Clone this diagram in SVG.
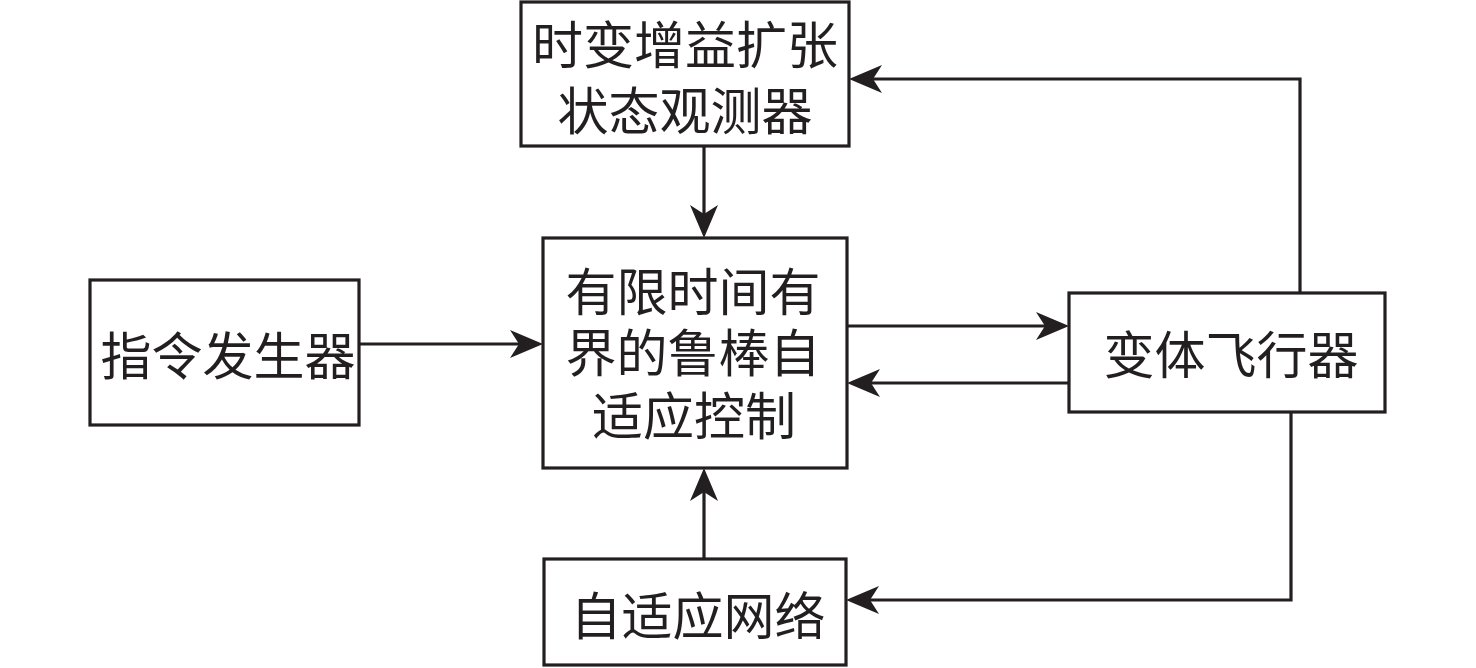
<svg xmlns="http://www.w3.org/2000/svg" width="1476" height="668" viewBox="0 0 1476 668">
<style>
.box{fill:#fff;stroke:#231f20;stroke-width:3.2}
.ln{fill:none;stroke:#231f20;stroke-width:3.2}
.ah{fill:#231f20}
text{font-family:"Noto Sans CJK SC","Noto Sans CJK TC",sans-serif;font-size:51px;fill:#231f20;text-anchor:middle;dominant-baseline:central}
</style>
<defs>
<path id="arr" d="M0,0 L-33,-14 L-24,0 L-33,14 Z"/>
</defs>
<g id="connectors">
<line class="ln" x1="704" y1="146" x2="704" y2="215"/>
<use href="#arr" class="ah" transform="translate(704,238) rotate(90)"/>
<line class="ln" x1="359" y1="344" x2="520" y2="344"/>
<use href="#arr" class="ah" transform="translate(543,344)"/>
<line class="ln" x1="847" y1="326" x2="1046" y2="326"/>
<use href="#arr" class="ah" transform="translate(1069,326)"/>
<line class="ln" x1="1069" y1="383" x2="870" y2="383"/>
<use href="#arr" class="ah" transform="translate(847,383) rotate(180)"/>
<polyline class="ln" points="1300,293 1300,79 872,79"/>
<use href="#arr" class="ah" transform="translate(849,79) rotate(180)"/>
<line class="ln" x1="704" y1="559" x2="704" y2="491"/>
<use href="#arr" class="ah" transform="translate(704,468) rotate(-90)"/>
<polyline class="ln" points="1291,412 1291,600 869,600"/>
<use href="#arr" class="ah" transform="translate(846,600) rotate(180)"/>
</g>
<g id="observer">
<rect class="box" x="521" y="2" width="328" height="144"/>
<text x="685" y="42">时变增益扩张</text>
<text x="685" y="108">状态观测器</text>
</g>
<g id="controller">
<rect class="box" x="543" y="238" width="304" height="230"/>
<text x="693" y="289">有限时间有</text>
<text x="693" y="350">界的鲁棒自</text>
<text x="694" y="413">适应控制</text>
</g>
<g id="command">
<rect class="box" x="90" y="280" width="269" height="145"/>
<text x="228" y="353">指令发生器</text>
</g>
<g id="aircraft">
<rect class="box" x="1069" y="293" width="316" height="119"/>
<text x="1231" y="352">变体飞行器</text>
</g>
<g id="network">
<rect class="box" x="544" y="559" width="302" height="106"/>
<text x="698" y="613">自适应网络</text>
</g>
</svg>
